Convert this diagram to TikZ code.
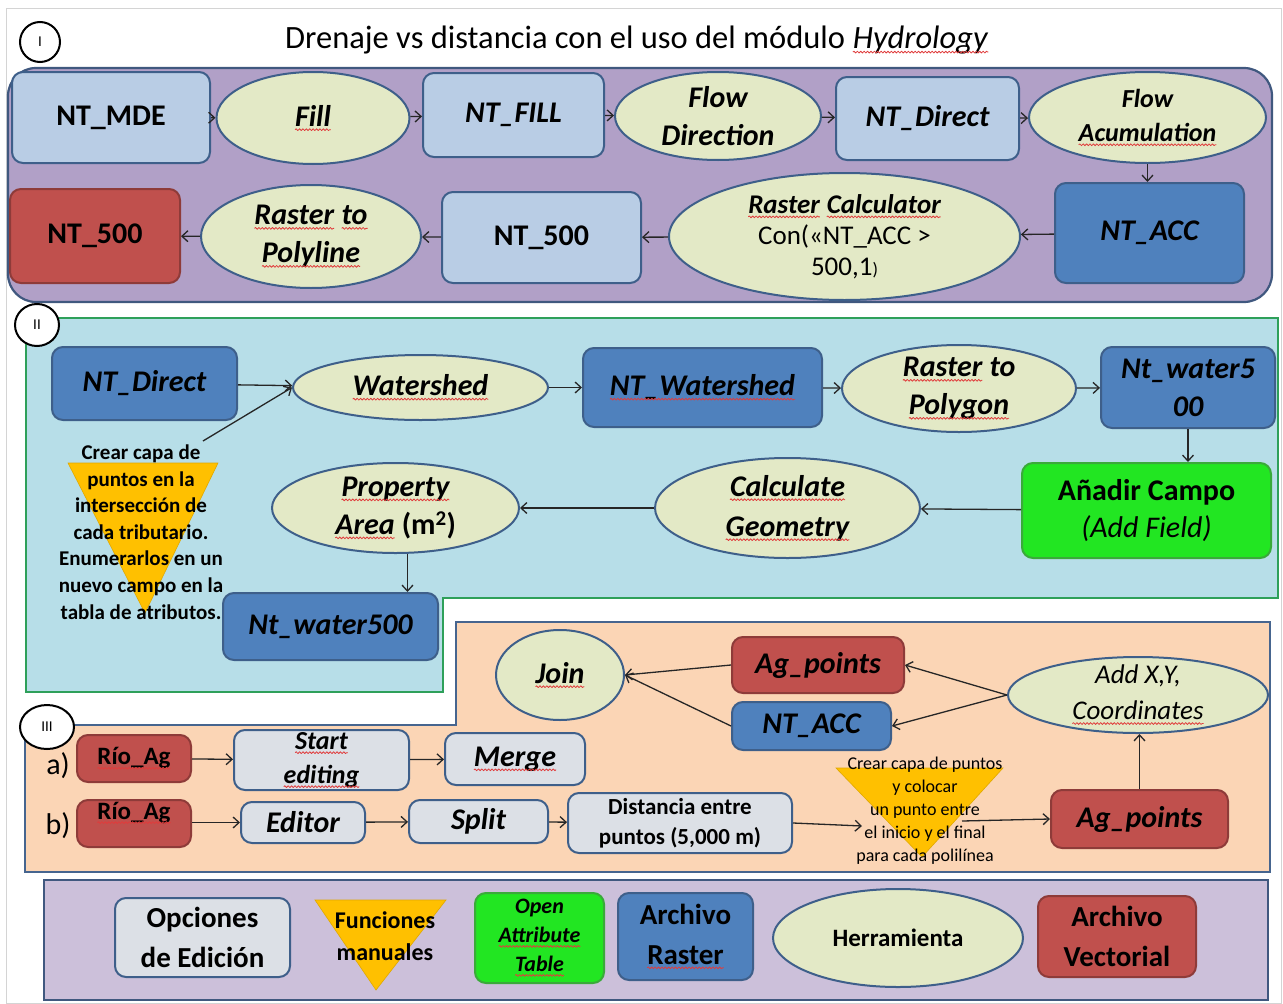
\documentclass[tikz,border=0pt]{standalone}
\usepackage{fontspec}
\setmainfont{Carlito}
\usetikzlibrary{shapes.geometric,arrows.meta,decorations.pathmorphing}

\definecolor{secI}{HTML}{B1A0C7}
\definecolor{secIEdge}{HTML}{40587F}
\definecolor{secII}{HTML}{B7DEE8}
\definecolor{secIIEdge}{HTML}{2EA05A}
\definecolor{secIII}{HTML}{FBD5B5}
\definecolor{secIIIEdge}{HTML}{46658F}
\definecolor{legC}{HTML}{CCC0DA}
\definecolor{lightB}{HTML}{B9CDE5}
\definecolor{darkB}{HTML}{4F81BD}
\definecolor{vecR}{HTML}{C0504D}
\definecolor{vecEdge}{HTML}{8E3B39}
\definecolor{optG}{HTML}{DCE0E6}
\definecolor{fieldG}{HTML}{22E622}
\definecolor{fieldEdge}{HTML}{3AAA3A}
\definecolor{toolY}{HTML}{E3E9C6}
\definecolor{manO}{HTML}{FFC000}
\definecolor{manEdge}{HTML}{E0A800}
\definecolor{edgeC}{HTML}{3E5F8A}
\definecolor{arrC}{HTML}{262626}
\definecolor{pageEdge}{HTML}{D4D4D4}
\definecolor{sqRed}{HTML}{E03C3C}

\newcommand\setfs[2]{\fontsize{#1}{#2}\selectfont}

\tikzset{
  sect/.style={line width=2.2pt},
  sz/.style 2 args={minimum width=#1pt, minimum height=#2pt},
  base/.style={draw=edgeC, line width=2pt, align=center, inner sep=1pt,
    text=black, font=\bfseries\setfs{30}{38}},
  lbox/.style={base, rounded corners=11pt, fill=lightB},
  dbox/.style={base, rounded corners=11pt, fill=darkB},
  rbox/.style={base, rounded corners=11pt, fill=vecR, draw=vecEdge},
  gbox/.style={base, rounded corners=11pt, fill=optG},
  fbox/.style={base, rounded corners=11pt, fill=fieldG, draw=fieldEdge},
  tool/.style={base, ellipse, fill=toolY, inner xsep=0pt, inner ysep=-8pt},
  tag/.style={draw=black, line width=2pt, fill=white, ellipse, inner sep=0pt,
    font=\setfs{15}{15}},
  note/.style={align=center, inner sep=0pt, text=black},
  manual/.style={fill=manO, draw=manEdge, line width=0.6pt},
  link/.style={draw=arrC, line width=1.3pt,
    -{Straight Barb[length=6pt,width=11pt,line width=1.3pt]}},
  squig/.style={draw=sqRed, line width=0.8pt, line join=round, rounded corners=0pt,
    decorate, decoration={snake, amplitude=0.9pt, segment length=3.4pt}},
}

% a word with a red wavy underline
\newcommand\sq[1]{\tikz[baseline=(sqw.base)]{%
  \node[shape=rectangle, draw=none, fill=none, inner sep=0pt, outer sep=0pt,
        minimum width=0pt, minimum height=0pt, text height=, text depth=,
        anchor=base] (sqw) at (0,0) {#1};%
  \draw[squig] ([yshift=-3.6pt]sqw.base west) -- ([yshift=-3.6pt]sqw.base east);}}

\begin{document}
\begin{tikzpicture}[x=1pt,y=-1pt]
\useasboundingbox (0,0) rectangle (1283,1004);
\fill[white] (0,0) rectangle (1283,1004);
\draw[pageEdge, line width=1pt] (6,8) rectangle (1281,1003);

% ---------- title ----------
\node[font=\setfs{32.5}{38}, inner sep=0pt] (title) at (637,40)
  {Drenaje vs distancia con el uso del módulo \sq{\textit{Hydrology}}};

% ---------- section frames ----------
\draw[sect, fill=secI, draw=secIEdge, rounded corners=28pt] (8,68) rectangle (1272,302);
\draw[sect, fill=secII, draw=secIIEdge]
  (26,318) -- (1278,318) -- (1278,598) -- (443,598) -- (443,692) -- (26,692) -- cycle;
\draw[sect, fill=secIII, draw=secIIIEdge]
  (25,725) -- (456,725) -- (456,622) -- (1270,622) -- (1270,872) -- (25,872) -- cycle;
\draw[sect, fill=legC, draw=secIEdge] (44,880) rectangle (1268,1000);

\node[tag, minimum width=40pt, minimum height=40pt] (tagI) at (40,42) {I};
\node[tag, minimum width=44pt, minimum height=42pt] (tagII) at (37,325) {II};
\node[tag, minimum width=54pt, minimum height=44pt] (tagIII) at (47,727) {III};

% ---------- I: drainage network ----------
\node[lbox, sz={198}{91}] (mde) at (111,117.5) {NT\_MDE};
\node[tool, sz={193}{92}] (fill) at (313,118) {\itshape\sq{Fill}};
\node[lbox, sz={181}{84}] (ntfill) at (513.5,115) {\itshape NT\_FILL};
\node[tool, sz={206}{88}] (flowdir) at (718,116) {\itshape Flow\\ \itshape Direction};
\node[lbox, sz={183}{83}] (ntdir) at (927.5,118.5) {\itshape NT\_Direct};
\node[tool, sz={237}{91}, font=\bfseries\setfs{26}{34}] (flowacc) at (1147.5,117.5)
  {\itshape Flow\\ \itshape\sq{Acumulation}};
\node[dbox, sz={189}{100}] (ntacc) at (1149.5,233) {\itshape NT\_ACC};
\node[tool, sz={351}{127}, font=\bfseries\setfs{27}{31}] (rcalc) at (844.5,236.5)
  {\itshape\sq{Raster} \sq{Calculator}\\ \mdseries Con(«NT\_ACC >\\ \mdseries 500,1{\setfs{18}{18})}};
\node[lbox, sz={199}{91}] (nt500b) at (541.5,237.5) {NT\_500};
\node[tool, sz={220}{103}] (r2line) at (311,236.5)
  {\itshape\sq{Raster} \sq{to}\\ \itshape\sq{Polyline}};
\node[rbox, sz={170}{94}] (nt500r) at (95,236) {NT\_500};

\draw[link] (mde) -- (fill);
\draw[link] (fill) -- (ntfill);
\draw[link] (ntfill) -- (flowdir);
\draw[link] (flowdir) -- (ntdir);
\draw[link] (ntdir) -- (flowacc);
\draw[link] (flowacc.south) -- (flowacc.south |- ntacc.north);
\draw[link] (ntacc) -- (rcalc);
\draw[link] (rcalc) -- (nt500b);
\draw[link] (nt500b) -- (r2line);
\draw[link] (r2line) -- (nt500r);

% ---------- II: watersheds ----------
\path[manual] (68,463) -- (218,463) -- (145,613) -- cycle;
\node[note, font=\bfseries\setfs{21}{26.6}] (pts) at (141,532)
  {Crear capa de\\ puntos en la\\ intersección de\\ cada tributario.\\
   Enumerarlos en un\\ nuevo campo en la\\ tabla de atributos.};
\coordinate (ptsTip) at (203,441);

\node[dbox, sz={185}{73}] (ntdir2) at (144.5,383.5) {\itshape NT\_Direct};
\node[tool, sz={255}{65}] (wshed) at (420.5,387.5) {\itshape\sq{Watershed}};
\node[dbox, sz={239}{79}] (ntws) at (702.5,387.5) {\itshape\sq{NT\_Watershed}};
\node[tool, sz={234}{87}] (r2poly) at (959,388.5)
  {\itshape\sq{Raster} to\\ \itshape\sq{Polygon}};
\node[dbox, sz={174}{81}] (ntw5a) at (1188,387.5) {\itshape Nt\_water5\\ \itshape 00};
\node[fbox, sz={249}{95}, font=\bfseries\setfs{30}{37}] (addf) at (1146.5,510.5)
  {Añadir Campo\\ \mdseries\itshape (Add Field)};
\node[tool, sz={265}{100}, font=\bfseries\setfs{30}{40}] (calcg) at (787.5,508)
  {\itshape\sq{Calculate}\\ \itshape\sq{Geometry}};
\node[tool, sz={247}{90}] (parea) at (395.5,508)
  {\itshape\sq{Property}\\ \itshape\sq{Area} \upshape(m\textsuperscript{2})};
\node[dbox, sz={215}{67}] (ntw5b) at (330.5,626.5) {\itshape Nt\_water500};

\draw[link] (ntdir2) -- (wshed);
\draw[link] (ptsTip) -- (wshed.west);
\draw[link] (wshed) -- (ntws);
\draw[link] (ntws) -- (r2poly);
\draw[link] (r2poly) -- (ntw5a);
\draw[link] (ntw5a.south) -- (ntw5a.south |- addf.north);
\draw[link] (addf) -- (calcg);
\draw[link] (calcg) -- (parea);
\draw[link] ([xshift=12pt]parea.south) -- ([xshift=12pt]parea.south |- ntw5b.north);

% ---------- III: points along the river ----------
\node[tool, sz={128}{90}] (join) at (560,675) {\itshape\sq{Join}};
\node[rbox, sz={172}{56}] (agp1) at (818,665) {\itshape Ag\_points};
\node[dbox, sz={159}{48}] (ntacc2) at (811.5,726) {\itshape NT\_ACC};
\node[tool, sz={260}{76}, font=\mdseries\setfs{27}{36}] (addxy) at (1138,695)
  {\itshape Add X,Y,\\ \itshape\sq{Coordinates}};

\node[note, font=\setfs{30}{30}] (lblA) at (58,766) {a)};
\node[note, font=\setfs{30}{30}] (lblB) at (58,826) {b)};

\node[rbox, sz={114}{47}, font=\bfseries\setfs{25}{28}] (rioA) at (134,758.5) {\sq{Río\_Ag}};
\node[gbox, sz={175}{60}, inner sep=0pt, font=\bfseries\setfs{26}{34}] (sedit) at (321.5,760)
  {\itshape\sq{Start}\\ \itshape\sq{editing}};
\node[gbox, sz={140}{52}] (merge) at (515,759) {\itshape\sq{Merge}};

\node[rbox, sz={114}{47}, font=\bfseries\setfs{25}{28}, text height=17pt, text depth=26pt]
  (rioB) at (134,823.5) {\sq{Río\_Ag}};
\node[gbox, sz={124}{41}] (editor) at (303,822.5) {\itshape Editor};
\node[gbox, sz={139}{43}] (split) at (478.5,821.5) {\itshape Split};
\node[gbox, sz={224}{60}, font=\bfseries\setfs{23}{30}] (dist) at (680,823)
  {Distancia entre\\ puntos (5,000 m)};

\path[manual] (836,768) -- (1003,768) -- (922,857) -- cycle;
\node[note, font=\setfs{18}{23}] (pts2) at (925,811)
  {Crear capa de puntos\\ y colocar\\ un punto entre\\ el inicio y el final\\ para cada polilínea};
\coordinate (pts2In) at (862,826);
\coordinate (pts2Out) at (962,821);

\node[rbox, sz={177}{58}] (agp2) at (1139.5,819) {\itshape Ag\_points};

\draw[link] (addxy.west) -- (agp1.east);
\draw[link] (addxy.west) -- (ntacc2.east);
\draw[link] (agp1.west) -- (join.east);
\draw[link] (ntacc2.west) -- (join.east);
\draw[link] (rioA) -- (sedit);
\draw[link] (sedit) -- (merge);
\draw[link] (rioB.east |- editor) -- (editor);
\draw[link] (editor) -- (split);
\draw[link] (split) -- (dist);
\draw[link] (dist.east) -- (pts2In);
\draw[link] (pts2Out) -- (agp2.west);
\draw[link] (agp2.north) -- (agp2.north |- addxy.south);

% ---------- legend ----------
\node[gbox, sz={175}{79}, font=\bfseries\setfs{29}{40}] (lgOpt) at (202.5,937.5)
  {Opciones\\ de Edición};
\path[manual] (315,900) -- (446,900) -- (376,990) -- cycle;
\node[note, font=\bfseries\setfs{24}{32}] (lgMan) at (385,936) {Funciones\\ manuales};
\node[fbox, sz={129}{90}, inner sep=0pt, font=\bfseries\setfs{22}{29}] (lgOpen) at (539.5,938)
  {\itshape Open\\ \itshape\sq{Attribute}\\ \itshape\sq{Table}};
\node[dbox, sz={135}{87}, font=\bfseries\setfs{29}{40}] (lgRas) at (685.5,936.5)
  {Archivo\\ \sq{Raster}};
\node[tool, sz={250}{98}, font=\bfseries\setfs{25}{30}] (lgTool) at (898,938) {Herramienta};
\node[rbox, sz={158}{81}, font=\bfseries\setfs{29}{40}] (lgVec) at (1117,936.5)
  {Archivo\\ Vectorial};
\end{tikzpicture}
\end{document}
